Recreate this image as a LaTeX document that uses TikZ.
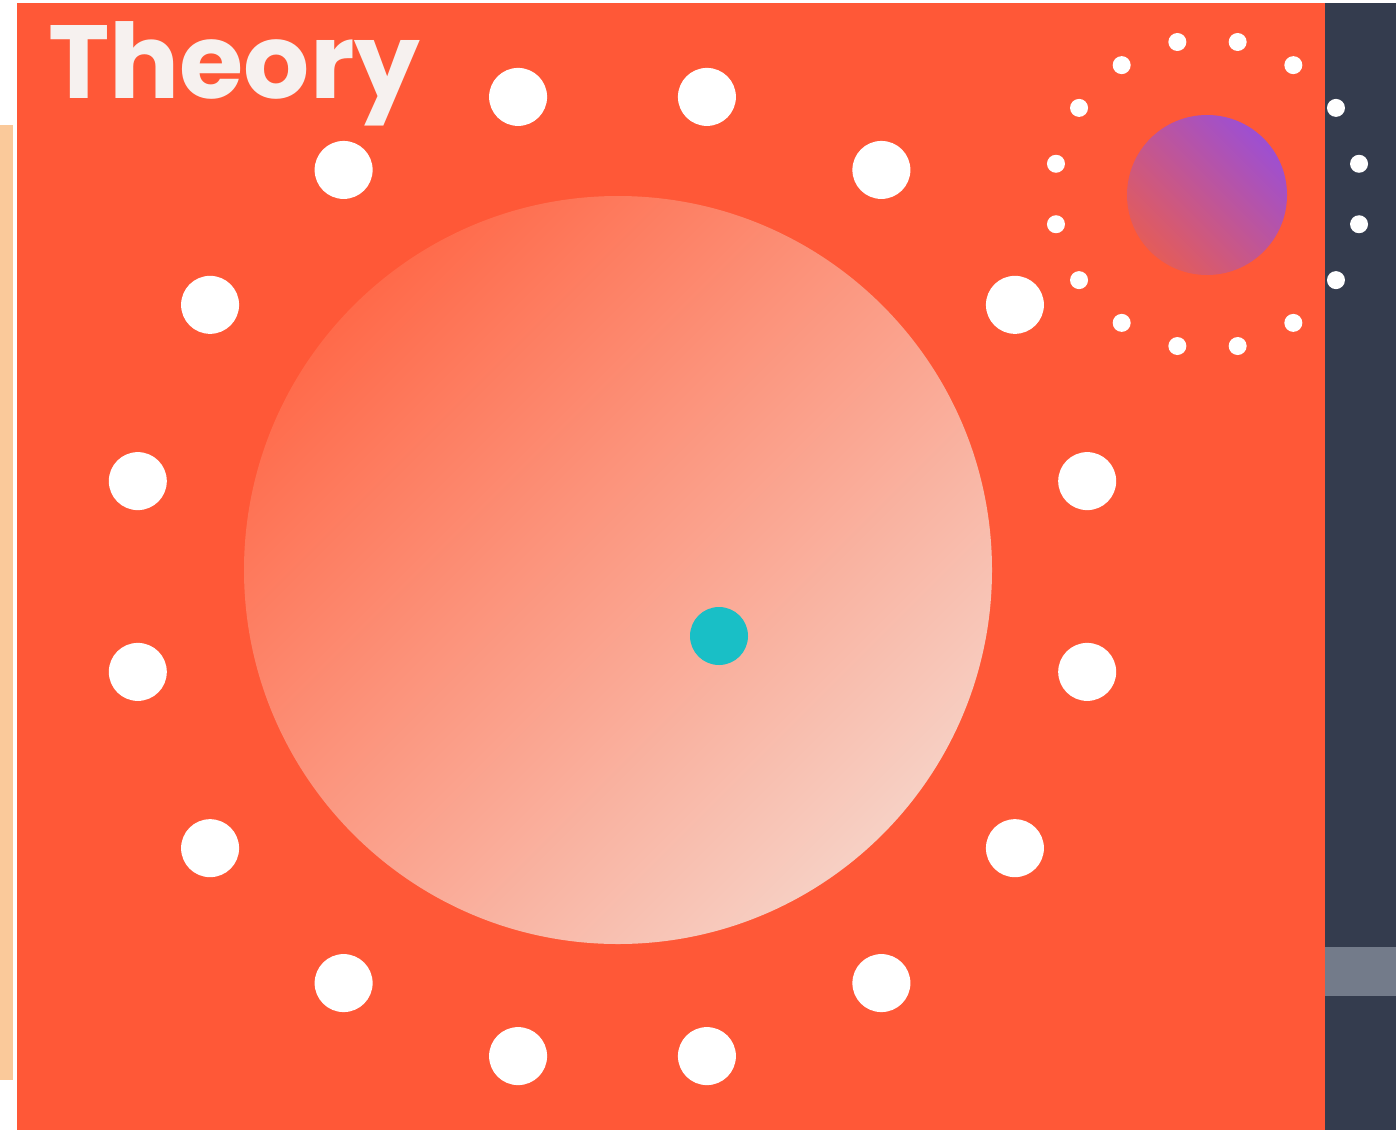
\documentclass[tikz,border=0pt]{standalone}
\usepackage{fontspec}
\newfontfamily\popfont{Poppins}
\definecolor{bgorange}{HTML}{FF5837}
\definecolor{navy}{HTML}{343C4E}
\definecolor{greybar}{HTML}{737B8A}
\definecolor{peach}{HTML}{FAC99A}
\definecolor{titlewhite}{HTML}{F6F1EF}
\definecolor{bigA}{HTML}{FF6A4A}
\definecolor{bigB}{HTML}{F7D0C4}
\definecolor{purpA}{HTML}{9D4FD2}
\definecolor{purpB}{HTML}{E35C5A}
\definecolor{teal}{HTML}{19BFC6}
\tikzset{
  bigdot/.style={circle, fill=white, inner sep=0pt, minimum size=58pt},
  smalldot/.style={circle, fill=white, inner sep=0pt, minimum size=18pt},
}
\begin{document}
\begin{tikzpicture}[x=1pt,y=-1pt]
\useasboundingbox (0,0) rectangle (1396,1130);
\fill[white] (0,0) rectangle (1396,1130);
\fill[peach] (0,125) rectangle (13,1080);
\fill[bgorange] (17,3) rectangle (1325,1130);
\fill[navy] (1325,3) rectangle (1396,1130);
\fill[greybar] (1325,947) rectangle (1396,996);
% big circle
\shade[top color=bigA, bottom color=bigB, shading angle=45] (618,570) circle[radius=374];
% teal dot
\node[circle, fill=teal, inner sep=0pt, minimum size=58pt] (tealdot) at (719,636) {};
% big dot ring
\foreach \i in {0,...,15} {
  \pgfmathsetmacro{\ang}{11.25+22.5*\i}
  \node[bigdot] (big\i) at ({612.5+484*sin(\ang)},{576.5-489*cos(\ang)}) {};
}
% purple circle
\shade[top color=purpA, bottom color=purpB, shading angle=-45] (1207,195) circle[radius=80];
% small dot ring
\foreach \i in {0,...,15} {
  \pgfmathsetmacro{\ang}{11.25+22.5*\i}
  \node[smalldot] (small\i) at ({1207.5+154.5*sin(\ang)},{194-155*cos(\ang)}) {};
}
% title
\node[anchor=base west, inner sep=0pt, text=titlewhite, font=\popfont\bfseries\fontsize{104}{110}\selectfont] (title) at (48,98) {Theory};
\end{tikzpicture}
\end{document}
